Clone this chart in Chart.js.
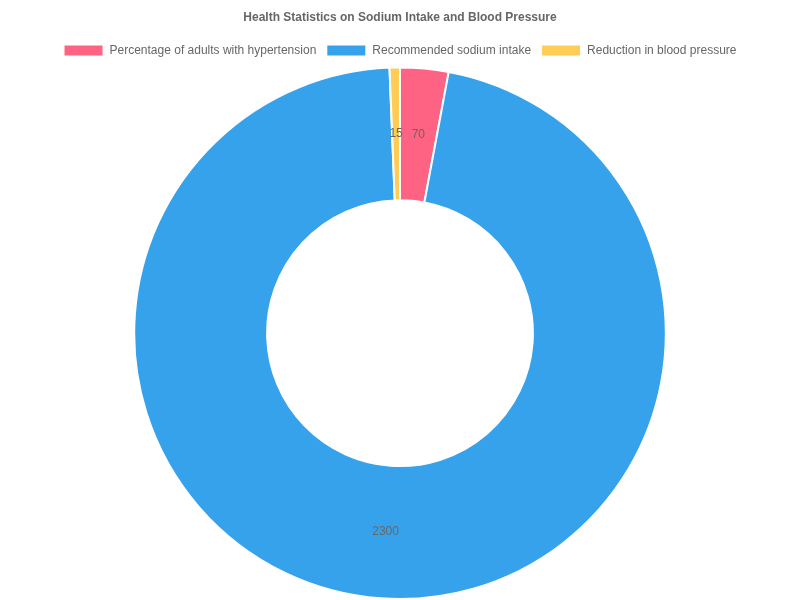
<!DOCTYPE html>
<html>
<head>
<meta charset="utf-8">
<script src="https://cdn.jsdelivr.net/npm/chart.js@4/dist/chart.umd.min.js"></script>
<style>
html,body{margin:0;padding:0;background:#fff;}
#wrap{width:800px;height:600px;}
</style>
</head>
<body>
<div id="wrap"><canvas id="c"></canvas></div>
<script>
const categories = ["Percentage of adults with hypertension", "Recommended sodium intake", "Reduction in blood pressure"];
const values = [70, 2300, 15];
const colors = ["rgb(255, 99, 132)", "rgb(54, 162, 235)", "rgb(255, 205, 86)"];

Chart.defaults.font.family = "'Liberation Sans', Arial, Helvetica, sans-serif";
Chart.defaults.color = "#666";

const valueLabels = {
  id: 'valueLabels',
  afterDatasetsDraw(chart) {
    const ctx = chart.ctx;
    const meta = chart.getDatasetMeta(0);
    ctx.save();
    ctx.font = "12px 'Liberation Sans', Arial, sans-serif";
    ctx.fillStyle = "#666";
    ctx.textAlign = "center";
    ctx.textBaseline = "middle";
    meta.data.forEach((arc, i) => {
      const p = arc.tooltipPosition();
      ctx.fillText(String(chart.data.datasets[0].data[i]), p.x, p.y);
    });
    ctx.restore();
  }
};

new Chart(document.getElementById('c'), {
  type: 'doughnut',
  data: {
    labels: categories,
    datasets: [{
      data: values,
      backgroundColor: colors,
      borderColor: '#fff',
      borderWidth: 2
    }]
  },
  options: {
    responsive: true,
    maintainAspectRatio: false,
    animation: false,
    plugins: {
      title: {
        display: true,
        text: 'Health Statistics on Sodium Intake and Blood Pressure',
        font: { size: 12, weight: 'bold' },
        color: '#666'
      },
      legend: {
        display: true,
        position: 'top',
        labels: { font: { size: 12 }, color: '#666' }
      },
      tooltip: { enabled: false }
    }
  },
  plugins: [valueLabels]
});
</script>
</body>
</html>
